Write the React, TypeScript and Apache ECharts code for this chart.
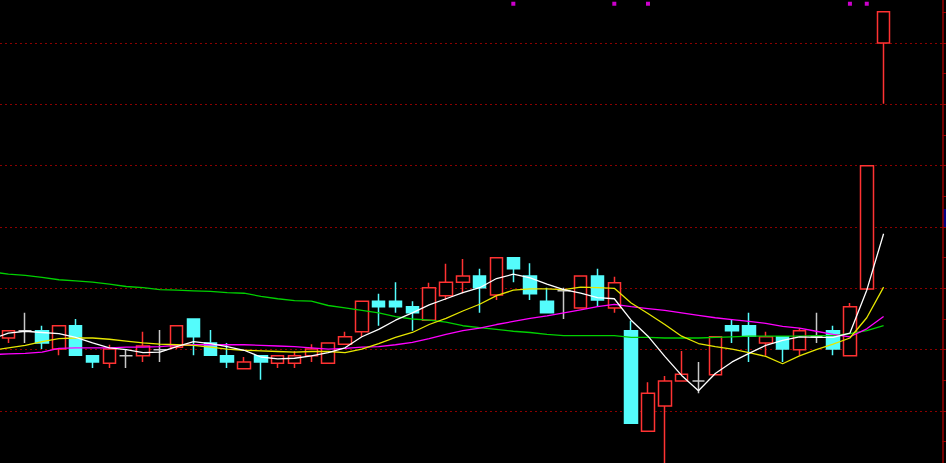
import { useEffect, useRef } from "react";
import * as echarts from "echarts";

// Daily candles, [open, close, low, high]
const candles: number[][] = [
  [11.19, 11.31, 11.11, 11.31],
  [11.31, 11.31, 11.11, 11.6],
  [11.31, 11.11, 11.01, 11.39],
  [11.01, 11.39, 10.91, 11.39],
  [11.39, 10.91, 10.91, 11.5],
  [10.9, 10.8, 10.7, 10.9],
  [10.78, 11.01, 10.7, 11.08],
  [10.9, 10.9, 10.7, 11.01],
  [10.9, 11.06, 10.8, 11.29],
  [11.0, 11.0, 10.8, 11.32],
  [11.04, 11.39, 11.01, 11.39],
  [11.5, 11.21, 10.91, 11.5],
  [11.11, 10.91, 10.91, 11.32],
  [10.9, 10.8, 10.7, 11.11],
  [10.69, 10.8, 10.69, 10.88],
  [10.9, 10.8, 10.51, 10.9],
  [10.78, 10.9, 10.7, 10.9],
  [10.78, 10.9, 10.7, 10.98],
  [10.9, 11.01, 10.8, 11.09],
  [10.78, 11.11, 10.78, 11.11],
  [11.09, 11.21, 11.09, 11.29],
  [11.29, 11.79, 11.21, 11.79],
  [11.79, 11.7, 11.39, 11.91],
  [11.79, 11.7, 11.6, 12.1],
  [11.7, 11.6, 11.31, 11.79],
  [11.48, 12.01, 11.48, 12.09],
  [11.88, 12.1, 11.81, 12.4],
  [12.1, 12.2, 11.92, 12.48],
  [12.2, 12.01, 11.6, 12.32],
  [11.89, 12.5, 11.81, 12.5],
  [12.5, 12.32, 12.1, 12.5],
  [12.2, 11.91, 11.81, 12.41],
  [11.79, 11.6, 11.6, 12.01],
  [11.96, 11.96, 11.5, 12.01],
  [11.68, 12.2, 11.68, 12.2],
  [12.2, 11.81, 11.7, 12.32],
  [11.68, 12.09, 11.6, 12.19],
  [11.31, 9.8, 9.8, 11.47],
  [9.67, 10.29, 9.67, 10.47],
  [10.08, 10.49, 9.1, 10.57],
  [10.49, 10.6, 10.49, 10.98],
  [10.49, 10.49, 10.29, 10.8],
  [10.59, 11.21, 10.59, 11.21],
  [11.39, 11.31, 11.11, 11.5],
  [11.39, 11.22, 10.8, 11.6],
  [11.11, 11.21, 10.9, 11.29],
  [11.21, 11.01, 10.8, 11.21],
  [11.0, 11.31, 10.91, 11.35],
  [11.21, 11.21, 11.11, 11.6],
  [11.31, 11.01, 10.91, 11.39],
  [10.9, 11.7, 10.9, 11.76],
  [11.99, 14.0, 11.99, 14.0],
  [16.0, 16.51, 15.01, 16.51],
];

// Moving averages: first value is the day just before the first visible candle
const ma5 = [
  11.17, 11.27, 11.3, 11.28, 11.26, 11.2, 11.11, 11.03, 11.0, 10.95, 10.96, 11.05, 11.13, 11.1, 11.05,
  10.99, 10.88, 10.85, 10.86, 10.9, 10.95, 11.03, 11.21, 11.33, 11.48, 11.6, 11.73, 11.83, 11.93,
  12.01, 12.16, 12.23, 12.17, 12.07, 11.98, 11.92, 11.85, 11.83, 11.48, 11.22, 10.89, 10.58, 10.33,
  10.61, 10.8, 10.94, 11.07, 11.15, 11.21, 11.2, 11.2, 11.27, 11.97, 12.89,
];
const ma10 = [
  10.99, 11.03, 11.07, 11.13, 11.18, 11.19, 11.19, 11.17, 11.14, 11.11, 11.09, 11.08, 11.07, 11.04,
  11.01, 10.99, 10.98, 10.97, 10.96, 10.97, 10.97, 10.95, 11.01, 11.1, 11.2, 11.28, 11.41, 11.51,
  11.63, 11.74, 11.88, 11.97, 11.99, 11.99, 11.98, 12.02, 12.01, 12.0, 11.76, 11.59, 11.41, 11.22,
  11.1, 11.05, 11.01, 10.95, 10.89, 10.77, 10.9, 11.0, 11.09, 11.19, 11.52, 12.02,
];
const ma20 = [
  10.92, 10.93, 10.94, 10.96, 11.02, 11.03, 11.03, 11.03, 11.04, 11.04, 11.05, 11.07, 11.08, 11.08,
  11.08, 11.08, 11.07, 11.06, 11.05, 11.03, 11.01, 11.02, 11.04, 11.05, 11.08, 11.12, 11.18, 11.25,
  11.31, 11.35, 11.41, 11.46, 11.51, 11.55, 11.6, 11.65, 11.7, 11.74, 11.7, 11.67, 11.64, 11.6,
  11.56, 11.52, 11.49, 11.46, 11.43, 11.38, 11.35, 11.3, 11.25, 11.21, 11.34, 11.54,
];
const ma60 = [
  12.27, 12.23, 12.21, 12.18, 12.14, 12.12, 12.1, 12.07, 12.03, 12.01, 11.98, 11.97, 11.96, 11.95,
  11.93, 11.92, 11.87, 11.83, 11.8, 11.79, 11.72, 11.68, 11.64, 11.6, 11.54, 11.5, 11.48, 11.45,
  11.39, 11.36, 11.33, 11.3, 11.28, 11.25, 11.23, 11.23, 11.23, 11.23, 11.2, 11.2, 11.19, 11.19,
  11.19, 11.2, 11.21, 11.22, 11.22, 11.22, 11.22, 11.23, 11.23, 11.26, 11.31, 11.39,
];

// Candle indices that carry a signal marker along the top edge
const signalDays = [30, 36, 38, 50, 51];
const signalLevel = 16.64;

// Price axis
const yMin = 9.152;
const yMax = 16.701;
const gridLevels = [10, 11, 12, 13, 14, 15, 16];
const tickLevels = [9.5, 10, 10.5, 11, 11.5, 12, 12.5, 13, 13.5, 14, 14.5, 15, 15.5, 16, 16.5];

const LEAD = 1;
const TRAIL = 3;

const UP = "#ff3232";
const DOWN = "#54fcfc";
const DOJI = "#c8c8c8";
const AXIS = "#990000";

export default function App() {
  const ref = useRef<HTMLDivElement>(null);

  useEffect(() => {
    if (!ref.current) return;
    const chart = echarts.init(ref.current, null, { renderer: "svg" });

    const total = LEAD + candles.length + TRAIL;
    const cats = Array.from({ length: total }, (_, i) => String(i));
    const kData: any[] = [];
    for (let i = 0; i < LEAD; i++) kData.push("-");
    candles.forEach((c) => {
      if (c[0] === c[1]) {
        kData.push({
          value: c,
          itemStyle: { color: DOJI, color0: DOJI, borderColor: DOJI, borderColor0: DOJI },
        });
      } else kData.push(c);
    });
    for (let i = 0; i < TRAIL; i++) kData.push("-");

    const sigData = cats.map((_, i) =>
      signalDays.includes(i - LEAD) ? signalLevel : "-"
    );

    const line = (data: number[], color: string) => ({
      type: "line",
      data,
      symbol: "none",
      silent: true,
      z: 3,
      lineStyle: { color, width: 1.3 },
    });

    chart.setOption({
      animation: false,
      backgroundColor: "#000000",
      grid: { left: 0, right: 3.5, top: 0, bottom: 0 },
      xAxis: {
        type: "category",
        data: cats,
        min: LEAD,
        max: total - 1,
        boundaryGap: true,
        axisLine: { show: false },
        axisTick: { show: false },
        axisLabel: { show: false },
        splitLine: { show: false },
      },
      yAxis: {
        type: "value",
        position: "right",
        min: yMin,
        max: yMax,
        axisLine: { show: true, lineStyle: { color: AXIS, width: 1.5 } },
        axisTick: {
          show: true,
          length: 4,
          customValues: tickLevels,
          lineStyle: { color: AXIS },
        },
        axisLabel: { show: false },
        splitLine: { show: false },
      },
      series: [
        {
          type: "candlestick",
          data: kData,
          barWidth: 13,
          z: 2,
          itemStyle: {
            color: "#000000",
            color0: DOWN,
            borderColor: UP,
            borderColor0: DOWN,
            borderColorDoji: DOJI,
            borderWidth: 1.5,
          },
          markLine: {
            silent: true,
            z: 1,
            symbol: ["none", "none"],
            label: { show: false },
            lineStyle: { color: "#8c0000", type: [2, 3], width: 1.2 },
            data: gridLevels.map((v) => ({ yAxis: v })),
          },
        },
        line(ma60, "#00d000"),
        line(ma20, "#ff00ff"),
        line(ma10, "#e6e600"),
        line(ma5, "#ffffff"),
        {
          type: "scatter",
          data: sigData,
          symbol: "rect",
          symbolSize: 4,
          silent: true,
          itemStyle: { color: "#ff00ff" },
        },
      ],
      graphic: [
        {
          type: "rect",
          left: 943,
          top: 209,
          shape: { width: 3, height: 19 },
          style: { fill: "#000080" },
          silent: true,
        },
      ],
    });

    return () => chart.dispose();
  }, []);

  return (
    <div
      ref={ref}
      style={{ position: "fixed", left: 0, top: 0, width: 946, height: 463 }}
    />
  );
}
